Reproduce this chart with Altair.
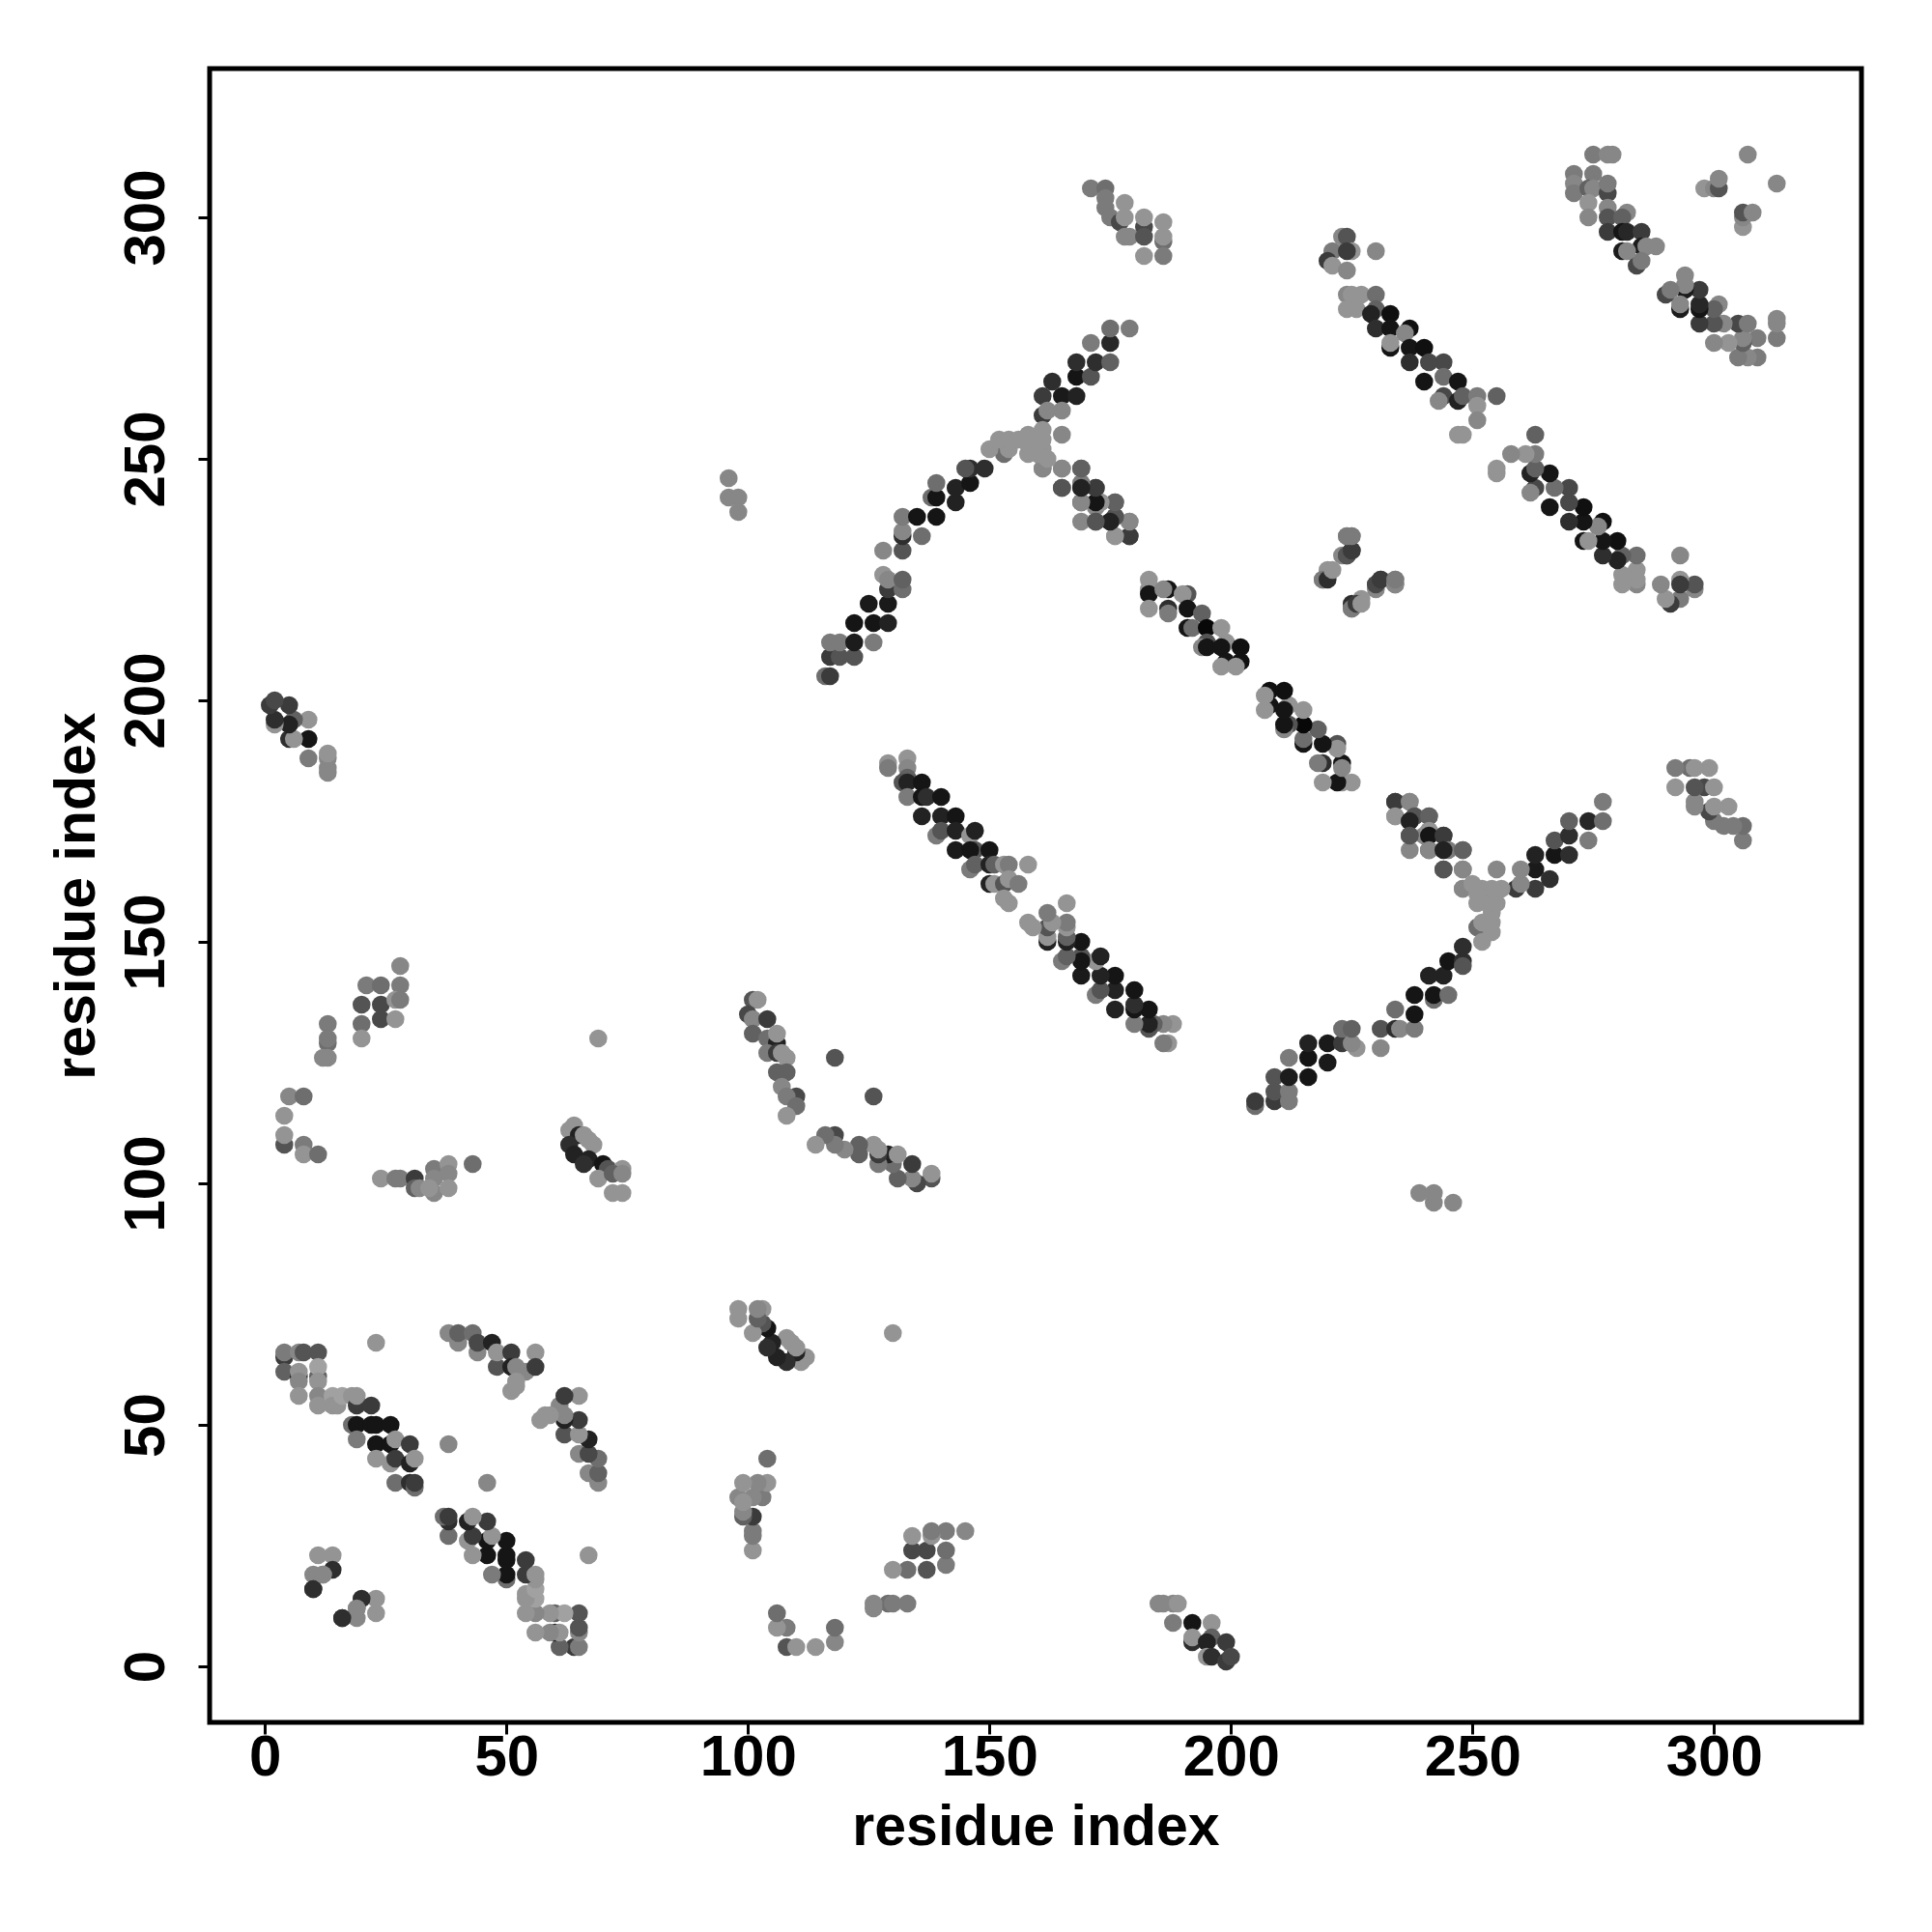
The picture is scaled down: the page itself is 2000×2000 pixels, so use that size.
import altair as alt
import pandas as pd

# contacts as (residue i, residue j, shade %) ; the map is symmetric
s_a = [(4,64,20),(4,61,35),(4,65,45),(7,60,10),(7,61,55),(7,59,50),(7,65,50),(8,65,30),(11,65,30),(11,60,35),(11,62,60),(11,59,55),
       (7,56,55),(11,56,50),(11,54,55),(14,56,60),(14,54,55),(15,54,55),(16,56,60),(18,56,55),(19,54,20),(19,56,55),(22,54,20),
       (18,50,40),(19,50,5),(19,47,45),(22,50,5),(23,50,5),(23,46,5),(26,50,5),(23,43,55),(26,46,5),(26,42,55),(27,47,55),(27,43,20),
       (30,46,20),(30,42,10),(31,43,55),(27,38,40),(30,38,15),(31,37,40),(31,38,20)]
s_near = [(11,23,55),(14,23,55),(14,20,15),(10,19,50),(12,19,50),(10,16,15),(16,10,15),(19,12,50)]
s_iso = [(23,67,55),(38,46,50),(69,130,55),(118,126,30)]
s_b = [(38,69,50),(40,67,50),(40,69,35),(43,69,40),(44,65,50),(44,67,25),(47,67,10),(48,62,30),(48,65,55),(51,65,20),(51,62,10),
       (52,62,50),(54,61,50),(56,65,55),(56,62,20),(52,59,55),(51,57,55),(52,58,55)]
s_c = [(64,112,55),(63,111,55),(65,110,10),(63,108,15),(66,110,55),(67,109,55),(64,106,10),(68,108,55),(67,105,10),(66,104,15),
       (70,104,5),(71,103,30),(69,101,55),(74,103,55),(72,102,35),(74,102,50),(72,98,55),(74,98,55)]
s_d = [(28,145,50),(21,141,45),(24,141,40),(28,141,45),(24,137,25),(20,137,30),(27,138,55),(28,138,45),(24,134,25),(27,134,55),
       (20,133,40),(20,130,55),(13,133,45),(13,129,40),(13,130,45),(13,126,50),(12,126,50)]
s_e = [(5,118,50),(8,118,40),(4,114,55),(4,108,30),(4,110,55),(8,108,45),(8,106,55),(11,106,40)]
s_f = [(24,101,55),(27,101,45),(28,101,45),(31,101,20),(31,99,35),(32,99,50),(35,103,45),(35,101,50),(35,98,50),(34,99,55),
       (38,104,55),(38,102,50),(38,99,55),(43,104,40)]
s_g = [(101,138,30),(102,138,55),(100,135,25),(101,134,50),(101,131,35),(104,134,20),(104,130,40),(106,129,10),(106,131,55),
       (104,127,45),(106,127,20),(107,127,55),(108,126,55),(106,123,35),(108,123,35),(107,120,50),(110,118,25),(108,118,45),
       (110,116,40),(108,114,55)]
s_h = [(13,185,50),(13,186,50),(13,188,50),(13,189,55),(9,188,45),(9,192,5),(9,196,55),(5,192,15),(6,192,55),(6,196,35),(5,195,10),
       (5,199,20),(2,195,55),(2,196,15),(1,199,20),(2,200,25)]
s_i = [(96,246,50),(96,242,50),(98,242,50),(98,239,50)]
s_j = [(116,205,40),(117,205,20),(117,209,20),(119,209,30),(122,209,30),(117,212,45),(119,212,45),(122,212,8),(126,212,45),(122,216,5),
       (126,216,5),(129,216,10),(125,220,7),(129,220,7),(129,223,20),(132,223,40),(128,226,55),(129,225,50),(132,225,35),(128,231,50),
       (132,231,30),(132,234,15),(132,235,50),(136,234,40),(132,238,45),(135,238,5),(139,238,5),(138,242,40),(139,242,5),(143,241,10),
       (139,245,40),(143,244,10),(146,245,5),(146,248,15),(145,248,30),(149,248,15),(153,251,40),
       (165,263,7),(168,263,10),(165,260,50),(168,267,5),(171,267,30),(168,270,15),(172,270,15),(175,270,35),(171,274,45),(175,274,12),
       (175,277,40),(179,277,45),(161,263,20),(163,266,15),(161,259,20)]
s_j2 = [(150,252,55),(154,252,55),(152,254,55),(154,254,55),(156,254,55),(158,251,55),(158,253,55),(158,255,55),(161,256,55),
        (161,252,55),(161,254,55),(165,255,50),(160,251,55),(162,250,55),(162,260,50)]
s_k = [(161,248,50),(165,248,50),(169,248,35),(165,244,30),(169,244,50),(172,244,20),(169,241,30),(172,240,50),(172,237,30),
       (176,234,55),(176,238,30),(175,237,10),(173,241,55),(169,237,50),(179,234,20),(179,237,50),(176,241,35)]
s_l = [(171,306,45),(174,306,40),(174,304,45),(174,302,45),(175,300,45),(178,303,55),(177,299,25),(178,300,55),(182,298,25),(182,300,55),
       (178,296,50),(179,296,50),(182,296,30),(186,299,55),(186,295,40),(186,296,55),(182,292,55),(186,292,45)]
s_m = [(129,187,55),(129,186,45),(133,188,55),(133,186,50),(133,184,35),(132,183,30),(133,183,10),(136,183,5),(133,180,45),(136,180,5),
       (137,180,15),(140,180,5),(136,176,10),(140,176,10),(139,172,45),(140,173,30),(143,176,5),(143,173,10),(143,169,7),(146,172,55),
       (147,173,10),(147,169,30),(146,169,5),(150,169,5),(146,165,45),(147,166,35),(150,166,10),(151,166,35),(153,166,55),(154,166,45),
       (158,166,55),(150,162,10),(151,162,55),(153,162,30),(154,163,55),(156,162,45),(153,159,55),(154,158,55)]
s_n = [(183,225,55),(183,223,55),(183,222,5),(183,219,55),(187,223,5),(186,223,50),(187,219,15),(187,218,45),(191,222,30),(190,222,55),
       (191,219,5),(191,215,5),(194,218,35),(192,215,40),(195,215,0),(195,212,30),(194,211,50),(195,211,5),(198,215,55),(199,212,55),
       (198,211,5),(199,208,5),(198,207,55),(202,211,3),(202,208,3),(201,207,55)]
s_o = [(219,225,45),(220,226,20),(220,227,55),(223,230,50),(224,230,25),(225,231,20),(224,234,50),(225,234,45),(230,224,30),(231,225,20),
       (234,224,45),(234,225,45),(225,219,45),(225,220,15),(227,221,55)]
s_p = [(179,234,20),(176,234,55),(179,237,50),(176,238,30),(176,241,35),(175,237,10),(172,237,30),(173,241,55),(172,241,5),(169,241,50),
       (172,244,20),(169,245,45),(169,244,10),(165,244,30),(169,248,35),(165,248,50),(161,248,50)]
s_q = [(223,296,50),(224,296,30),(221,293,45),(225,293,55),(224,293,20),(220,291,20),(221,290,55),(224,289,50),(230,293,50),
       (224,284,50),(225,284,55),(227,284,55),(230,284,40),(224,281,55),(226,281,55),(230,281,35),(229,280,10),(233,280,3),(230,277,15),
       (233,277,5),(233,273,5),(233,274,55),(237,277,3),(236,276,50),(237,273,5),(240,273,3),(237,270,15),(241,270,25),(244,270,25),
       (240,266,5),(244,267,40),(244,263,25),(247,266,5),(243,262,50),(247,262,10),(248,263,35),(251,263,45),(255,263,35),(251,261,55),
       (251,258,50),(247,255,55),(248,255,55)]
s_r = [(275,313,45),(278,313,50),(279,313,50),(271,309,45),(275,309,45),(271,307,50),(271,305,45),(274,306,35),(275,306,50),(278,305,25),
       (278,307,45),(274,303,55),(274,300,50),(278,302,50),(278,300,30),(282,301,50),(281,300,35),(278,297,20),(281,297,5),(282,297,12),
       (285,297,20),(285,294,8),(286,294,50),(288,294,50),(281,293,8),(282,293,50),(284,290,25),(285,291,45)]
s_s = [(298,306,55),(300,306,50),(301,306,30),(301,308,50),(307,313,50)]

strands = [s_a, s_near, s_iso, s_b, s_c, s_d, s_e, s_f, s_g, s_h, s_i, s_j, s_k, s_p, s_j2, s_l, s_m, s_n, s_o, s_q, s_r, s_s]

rows = []
for st in strands:
    for i, j, s in st:
        c = round(2.55 * s) + 8
        rows.append({"x": i, "y": j, "c": f"rgb({c},{c},{c})"})
for st in strands:
    for i, j, s in st:
        c = round(2.55 * s) + 8
        rows.append({"x": j, "y": i, "c": f"rgb({c},{c},{c})"})
df = pd.DataFrame(rows)

ticks = [0, 50, 100, 150, 200, 250, 300]
font = "Liberation Sans"
axis_common = dict(values=ticks, grid=False, domain=False, tickColor="black", tickWidth=3, tickSize=12,
                   labelFont=font, labelFontWeight="bold", labelColor="black", labelFontSize=60,
                   titleFont=font, titleFontWeight="bold", titleFontSize=59, titleColor="black", title="residue index")

chart = (
    alt.Chart(df)
    .mark_circle(size=345, opacity=1, clip=True)
    .encode(
        x=alt.X("x:Q", scale=alt.Scale(domain=[-11.46, 330.54], nice=False, zero=False),
                axis=alt.Axis(labelPadding=-5, titlePadding=13, **axis_common)),
        y=alt.Y("y:Q", scale=alt.Scale(domain=[-11.6, 330.8], nice=False, zero=False),
                axis=alt.Axis(labelAngle=270, labelAlign="center", labelBaseline="bottom",
                              labelPadding=23, titlePadding=12, **axis_common)),
        color=alt.Color("c:N", scale=None),
    )
    .properties(width=1710, height=1712,
                autosize=alt.AutoSizeParams(type="none"),
                padding={"left": 209, "top": 63, "right": 60, "bottom": 200})
    .configure_view(stroke="black", strokeWidth=5)
)

chart.save("out.html", embed_options={"renderer": "svg", "actions": False})
